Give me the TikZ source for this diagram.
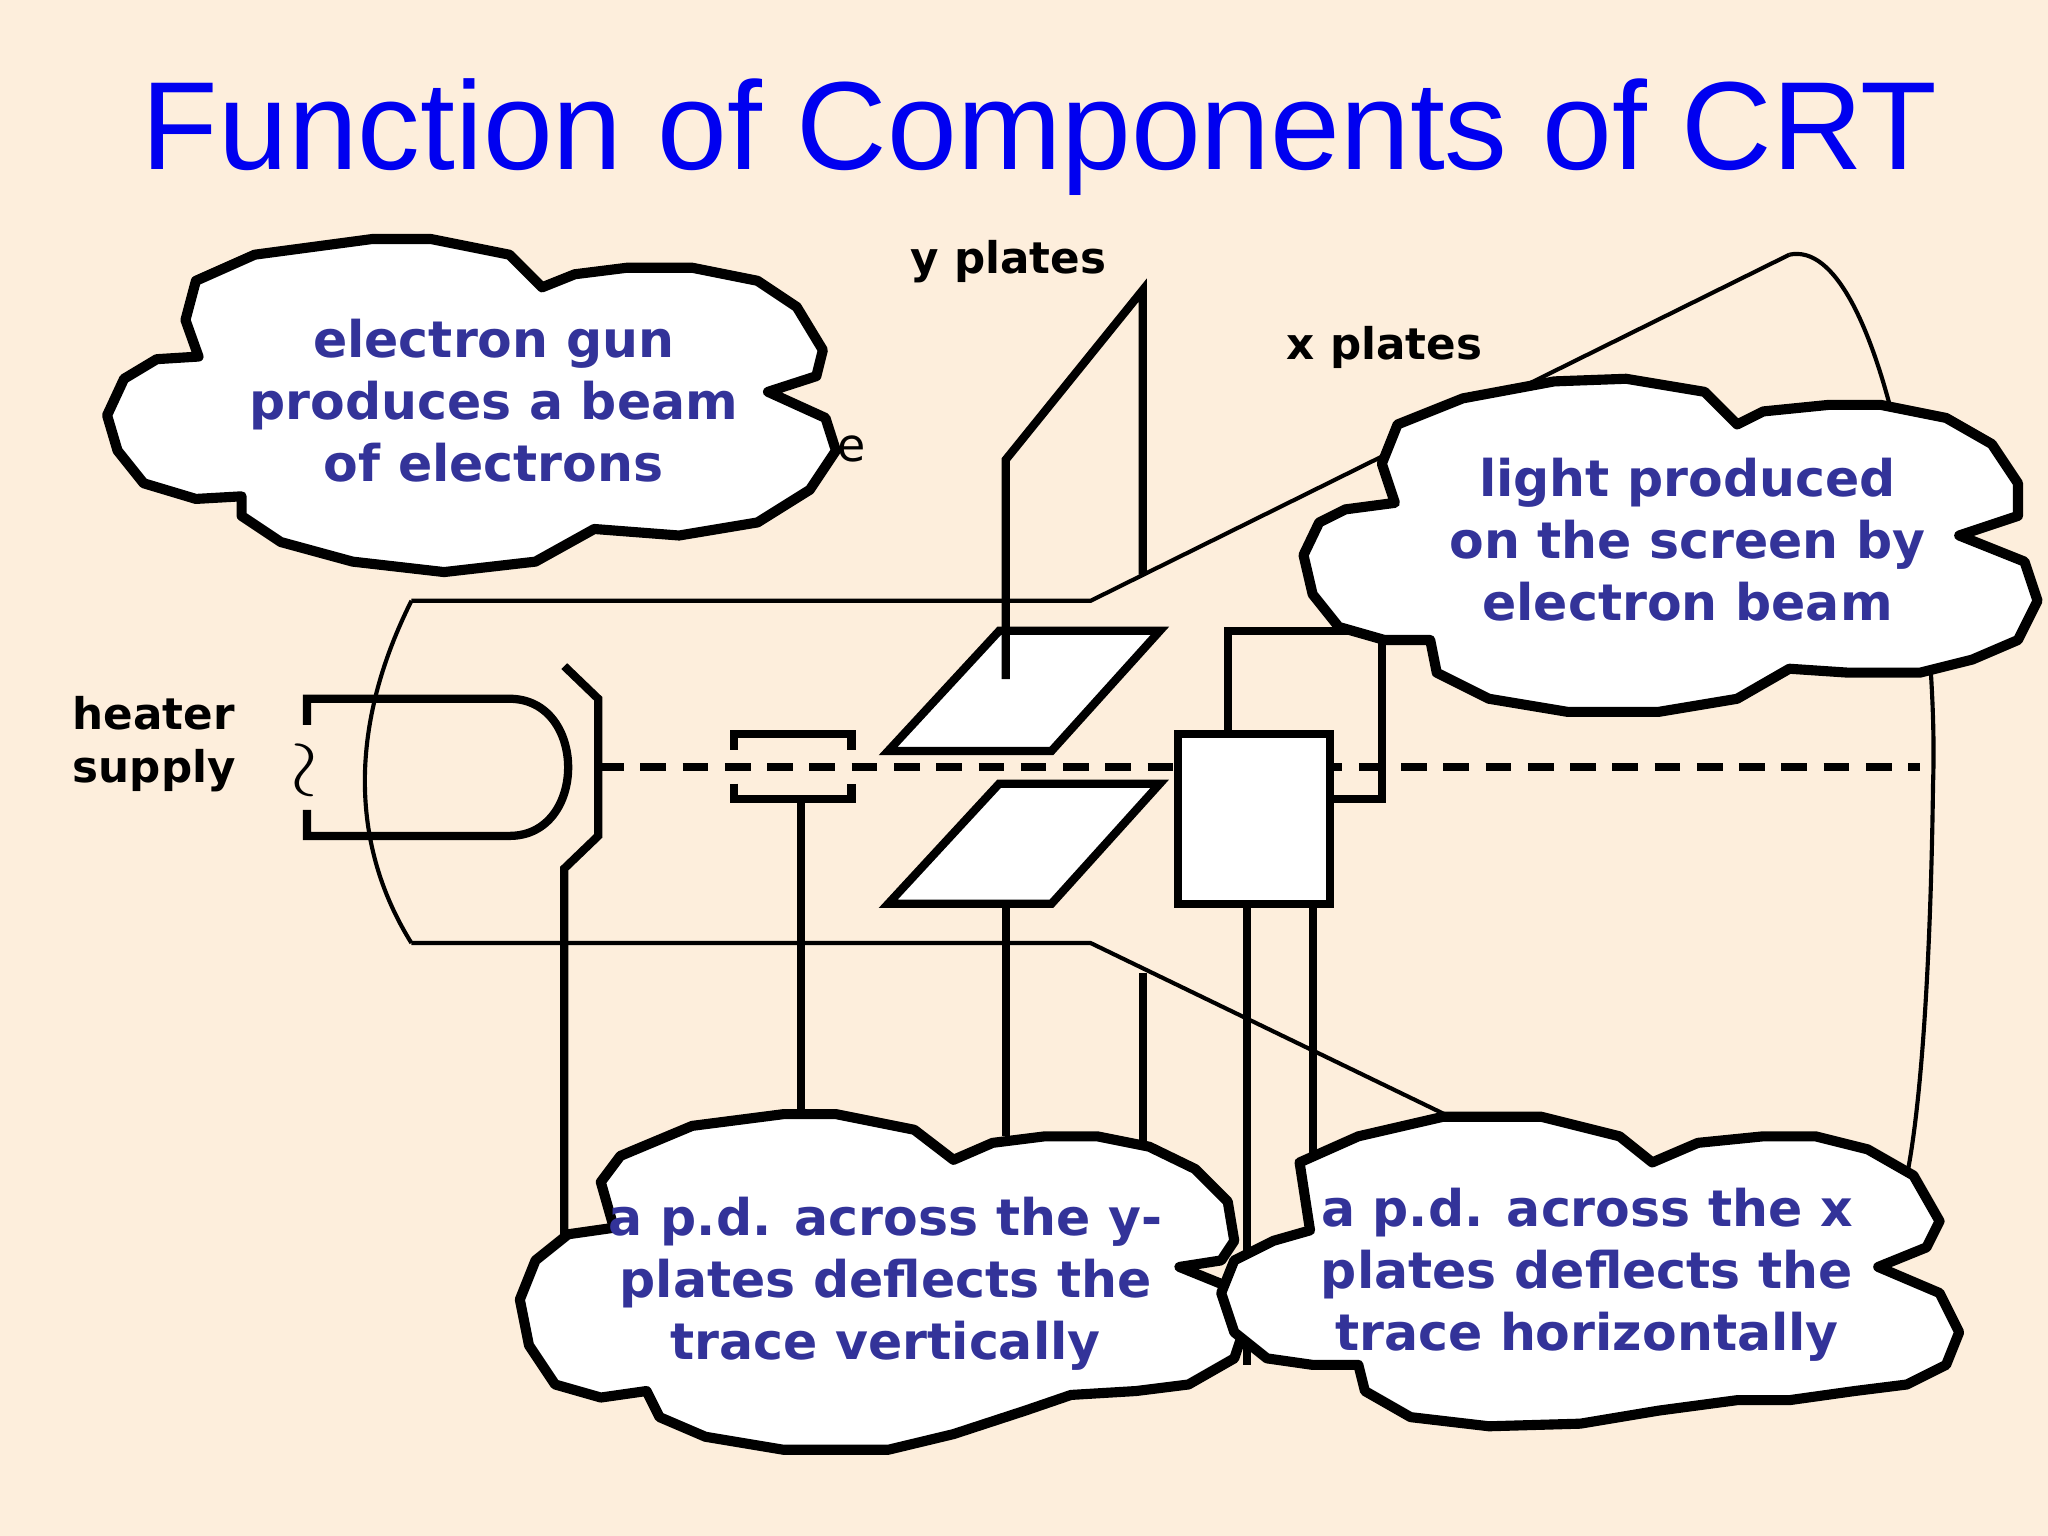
\documentclass[tikz,border=0pt]{standalone}
\usepackage{fontspec}
\setmainfont{DejaVu Sans}
\newfontfamily\titlefont{Liberation Sans}
\begin{document}
\begin{tikzpicture}[x=0.01cm,y=-0.01cm,
  cloud/.style={draw=black,line width=2.2pt,fill=white,line join=round},
  thin/.style={draw=black,line width=0.9pt},
  wire/.style={draw=black,line width=1.8pt},
  ctext/.style={text=cblue,font=\bfseries\fontsize{11}{13.5}\selectfont,align=center},
  lab/.style={font=\bfseries\fontsize{9.5}{11.5}\selectfont}]
\definecolor{bg}{HTML}{FDEEDC}
\definecolor{cblue}{HTML}{333399}
\useasboundingbox (0,0) rectangle (1568,1176);
\fill[bg] (0,0) rectangle (1568,1176);
\node[text={rgb,255:red,0;green,0;blue,240},font=\titlefont\fontsize{27.3}{33}\selectfont] (title) at (796,105) {Function of Components of CRT};
% tube
\draw[thin] (315,460) -- (835,460) -- (1370,195);
\draw[thin] (315,722) -- (835,722) -- (1110,855);
\draw[thin] (315,460) .. controls (265,560) and (270,650) .. (315,722);
\draw[thin] (1370,195) .. controls (1440,180) and (1485,450) .. (1480,600) .. controls (1478,750) and (1470,850) .. (1460,900);
% heater
\draw[wire] (235,555) -- (235,535) -- (390,535) .. controls (450,535) and (450,640) .. (390,640) -- (235,640) -- (235,620);
\node[font=\bfseries\fontsize{16}{16}\selectfont,rotate=-90] (tilde) at (229,590) {$\sim$};
\draw[wire] (432,510) -- (458,535) -- (458,640) -- (432,665) -- (432,945);
\draw[wire,dash pattern=on 5.6pt off 3.6pt] (458,587) -- (1470,587);
% anode
\draw[wire] (562,574) -- (562,562) -- (652,562) -- (652,574);
\draw[wire] (562,600) -- (562,612) -- (652,612) -- (652,600);
\draw[wire] (613,612) -- (613,855);
% y plates
\draw[wire,fill=white] (680,575) -- (765,483) -- (888,483) -- (805,575) -- cycle;
\draw[wire,fill=white] (680,692) -- (765,600) -- (888,600) -- (805,692) -- cycle;
\draw[wire] (770,520) -- (770,352) -- (875,222) -- (875,440);
\draw[wire] (770,692) -- (770,870);
\draw[wire] (875,745) -- (875,875);
% x plates
\draw[wire,fill=white] (902,562) rectangle (1018,692);
\draw[wire] (940,562) -- (940,483) -- (1035,483);
\draw[wire] (1018,612) -- (1058,612) -- (1058,488);
\draw[wire] (955,692) -- (955,1045);
\draw[wire] (1005,692) -- (1005,885);
% labels
\node[lab] (yp) at (772,200) {y plates};
\node[lab] (xp) at (1060,266) {x plates};
\node[lab,align=left,anchor=west,inner sep=0pt] (hs) at (55,570) {heater\\supply};
\node[font=\fontsize{10}{10}\selectfont] (e) at (652,344) {e};
% clouds
\draw[cloud] (150,215)--(195,195)--(285,183)--(330,183)--(390,195)--(415,220)--(440,210)--(480,205)--(530,205)--(580,215)--(610,235)--(630,268)--(625,288)--(588,300)--(632,320)--(640,345)--(620,375)--(580,400)--(520,410)--(455,405)--(410,430)--(340,438)--(270,430)--(215,415)--(185,395)--(185,380)--(150,382)--(110,370)--(90,345)--(82,318)--(95,290)--(120,275)--(152,273)--(142,245)--cycle;
\node[ctext] (c1) at (378,307) {electron gun\\produces a beam\\of electrons};
\draw[cloud] (1070,325)--(1120,305)--(1190,292)--(1245,290)--(1305,300)--(1330,325)--(1350,315)--(1400,310)--(1440,310)--(1490,320)--(1525,340)--(1545,370)--(1545,395)--(1500,410)--(1550,430)--(1560,460)--(1545,490)--(1510,505)--(1470,515)--(1415,515)--(1370,512)--(1330,535)--(1270,545)--(1200,545)--(1140,535)--(1100,515)--(1095,490)--(1060,490)--(1025,480)--(1005,455)--(998,425)--(1010,400)--(1030,390)--(1068,385)--(1058,355)--cycle;
\node[ctext] (c2) at (1292,413) {light produced\\on the screen by\\electron beam};
\draw[cloud] (460,905)--(475,885)--(530,862)--(600,853)--(640,853)--(700,865)--(730,888)--(760,875)--(800,870)--(840,870)--(880,878)--(915,895)--(940,920)--(945,950)--(935,965)--(903,970)--(940,985)--(955,1010)--(945,1040)--(910,1060)--(870,1065)--(820,1068)--(785,1080)--(730,1098)--(680,1110)--(600,1110)--(540,1100)--(505,1085)--(495,1065)--(460,1070)--(425,1060)--(405,1030)--(398,995)--(410,965)--(435,945)--(470,940)--cycle;
\node[ctext] (c3) at (678,983) {a p.d. across the y-\\plates deflects the\\trace vertically};
\draw[cloud] (995,890)--(1040,870)--(1105,855)--(1180,855)--(1240,870)--(1265,890)--(1300,875)--(1350,870)--(1390,870)--(1430,880)--(1465,900)--(1485,935)--(1475,955)--(1438,970)--(1485,990)--(1500,1020)--(1490,1045)--(1460,1060)--(1420,1065)--(1370,1072)--(1330,1072)--(1270,1080)--(1210,1090)--(1140,1092)--(1080,1085)--(1045,1065)--(1040,1045)--(1005,1045)--(970,1040)--(945,1020)--(935,990)--(945,965)--(975,950)--(1003,942)--cycle;
\node[ctext] (c4) at (1215,976) {a p.d. across the x\\plates deflects the\\trace horizontally};
\end{tikzpicture}
\end{document}
